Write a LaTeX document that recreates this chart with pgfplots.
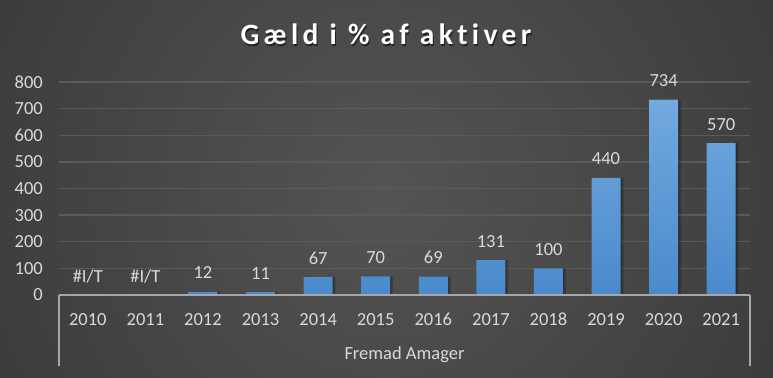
\documentclass[border=0pt]{standalone}
\usepackage{fontspec}
\setmainfont{Carlito}[Ligatures={NoCommon}]
\newfontfamily\titlefont{Carlito}[LetterSpace=15,Ligatures={NoCommon}]
\usepackage{pgfplots}
\pgfplotsset{compat=1.18}
\definecolor{bgc}{HTML}{545454}
\definecolor{bgo}{HTML}{242424}
\definecolor{gridc}{HTML}{5A5A5A}
\definecolor{axl}{HTML}{A6A6A6}
\definecolor{txt}{HTML}{D9D9D9}
\definecolor{bartop}{HTML}{72A9DF}
\definecolor{barbot}{HTML}{4A8ACC}
\pgfdeclareradialshading{bgshade}{\pgfpoint{0bp}{0bp}}{color(0bp)=(bgc); color(50bp)=(bgo)}
\newcommand\lbl{\fontsize{18.5bp}{22bp}\selectfont}
\begin{document}
\begin{tikzpicture}
\begin{scope}
\clip (0,0) rectangle (773bp,378bp);
\shade[shading=bgshade] (386.5bp,189bp) circle (431bp);
\end{scope}
\node[anchor=base, text=black, opacity=0.55, inner sep=0pt, font={\titlefont\bfseries\fontsize{29.5bp}{34bp}\selectfont}] at (387bp,331.8bp) {Gæld i \% af aktiver};
\node[anchor=base, text=white, inner sep=0pt, font={\titlefont\bfseries\fontsize{29.5bp}{34bp}\selectfont}] at (386bp,333bp) {Gæld i \% af aktiver};
\begin{axis}[
  at={(59bp,83bp)}, anchor=south west,
  scale only axis, width=691bp, height=213bp,
  xmin=-0.5, xmax=11.5, ymin=0, ymax=800,
  axis line style={draw=none},
  major tick length=0pt, tick style={draw=none},
  ymajorgrids, grid style={gridc, line width=1.3bp},
  ytick={0,100,...,800},
  xtick={0,...,11},
  xticklabels={2010,2011,2012,2013,2014,2015,2016,2017,2018,2019,2020,2021},
  /pgf/number format/assume math mode=true,
  yticklabel style={anchor=east, inner sep=0pt, xshift=-16bp, text=txt, font=\lbl},
  xticklabel style={anchor=north, inner sep=0pt, yshift=-18bp, text=txt, font=\lbl},
  clip=false,
]
\addplot[ybar, bar width=29bp, draw=none, fill=black, fill opacity=0.18, bar shift=3bp, forget plot]
  coordinates {(2,12)(3,11)(4,67)(5,70)(6,69)(7,131)(8,100)(9,440)(10,734)(11,570)};
\addplot[ybar, bar width=29bp, draw=none, fill=black, fill opacity=0.18, bar shift=1.5bp, forget plot]
  coordinates {(2,12)(3,11)(4,67)(5,70)(6,69)(7,131)(8,100)(9,440)(10,734)(11,570)};
\addplot[ybar, bar width=29bp, draw=none, top color=bartop, bottom color=barbot,
  nodes near coords,
  every node near coord/.append style={anchor=base, inner sep=0pt, yshift=13bp, text=txt, font=\lbl}]
  coordinates {(2,12)(3,11)(4,67)(5,70)(6,69)(7,131)(8,100)(9,440)(10,734)(11,570)};
\addplot[draw=none, mark=none, nodes near coords={\#I/T},
  every node near coord/.append style={anchor=base, inner sep=0pt, yshift=13bp, text=txt, font=\lbl}]
  coordinates {(0,0)(1,0)};
\draw[axl, line width=1.6bp] (rel axis cs:0,0) -- (rel axis cs:1,0);
\draw[axl, line width=1.3bp] (rel axis cs:0,0) -- ([yshift=-71bp]rel axis cs:0,0);
\draw[axl, line width=1.3bp] (rel axis cs:1,0) -- ([yshift=-71bp]rel axis cs:1,0);
\node[anchor=base, inner sep=0pt, text=txt, font=\lbl, yshift=-64bp] at (rel axis cs:0.5,0) {Fremad Amager};
\end{axis}
\pgfresetboundingbox
\useasboundingbox (0,0) rectangle (773bp,378bp);
\end{tikzpicture}
\end{document}
